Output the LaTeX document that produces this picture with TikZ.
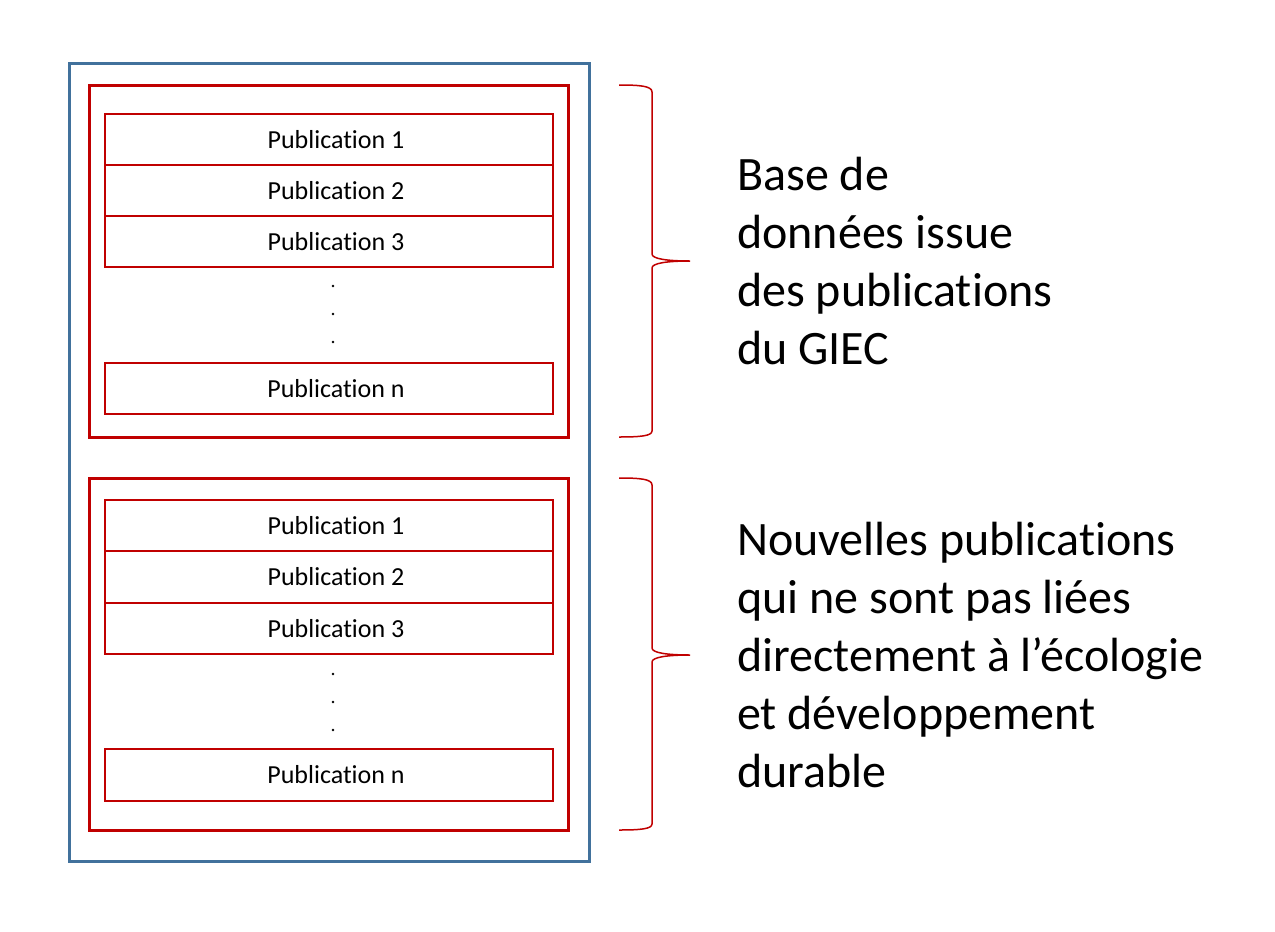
\documentclass[tikz,border=0pt]{standalone}
\usepackage{fontspec}
\setmainfont{Carlito}[Ligatures=NoCommon]
\definecolor{bblue}{HTML}{41719C}
\definecolor{rred}{HTML}{C00000}
\begin{document}
\begin{tikzpicture}[x=1pt,y=-1pt,
  outerbox/.style={draw=bblue,line width=3pt,minimum width=520pt,minimum height=798pt,inner sep=0pt},
  groupbox/.style={draw=rred,line width=3pt,minimum width=479pt,minimum height=352pt,inner sep=0pt},
  pub/.style={draw=rred,line width=2.5pt,minimum width=448pt,inner sep=0pt,
    label={[xshift=7pt,font=\fontsize{26}{30}\selectfont,inner sep=0pt]center:#1}},
  dotmark/.style={circle,fill=black,inner sep=0pt,minimum size=2.6pt},
  brace/.style={draw=rred,line width=1.5pt},
  bigtext/.style={anchor=west,align=left,inner sep=0pt,font=\fontsize{48}{58}\selectfont}]
\useasboundingbox (0,0) rectangle (1275,932);
\node[outerbox] (outer) at (329,462) {};
\node[groupbox] (g1) at (328.5,261) {};
\node[groupbox] (g2) at (328.5,654) {};
% top group
\node[pub={Publication 1},minimum height=51pt] (a1) at (329,139.5) {};
\node[pub={Publication 2},minimum height=51pt] (a2) at (329,190.5) {};
\node[pub={Publication 3},minimum height=51pt] (a3) at (329,241.5) {};
\node[dotmark] (ad1) at (333,286) {};
\node[dotmark] (ad2) at (333,314) {};
\node[dotmark] (ad3) at (333,342) {};
\node[pub={Publication n},minimum height=51pt] (an) at (329,388.5) {};
% bottom group
\node[pub={Publication 1},line width=2pt,minimum height=51pt] (b1) at (329,525.5) {};
\node[pub={Publication 2},line width=2pt,minimum height=52pt] (b2) at (329,577) {};
\node[pub={Publication 3},line width=2pt,minimum height=51pt] (b3) at (329,628.5) {};
\node[dotmark] (bd1) at (333,674) {};
\node[dotmark] (bd2) at (333,702) {};
\node[dotmark] (bd3) at (333,730) {};
\node[pub={Publication n},line width=2pt,minimum height=52pt] (bn) at (329,775) {};
% braces
\draw[brace] (619,85) .. controls (640,85) and (652,86) .. (652,92) -- (652,254)
  .. controls (652,259) and (668,261) .. (690,261)
  .. controls (668,261) and (652,263) .. (652,268) -- (652,431)
  .. controls (652,436) and (640,437) .. (619,437);
\draw[brace] (619,478) .. controls (640,478) and (652,479) .. (652,485) -- (652,648)
  .. controls (652,653) and (668,655) .. (690,655)
  .. controls (668,655) and (652,657) .. (652,662) -- (652,824)
  .. controls (652,829) and (640,830) .. (619,830);
% texts
\node[bigtext] (t1) at (737,261) {Base de\\donn\'ees issue\\des publications\\du GIEC};
\node[bigtext] (t2) at (737,655) {Nouvelles publications\\qui ne sont pas li\'ees\\directement \`a l’\'ecologie\\et d\'eveloppement\\durable};
\end{tikzpicture}
\end{document}
